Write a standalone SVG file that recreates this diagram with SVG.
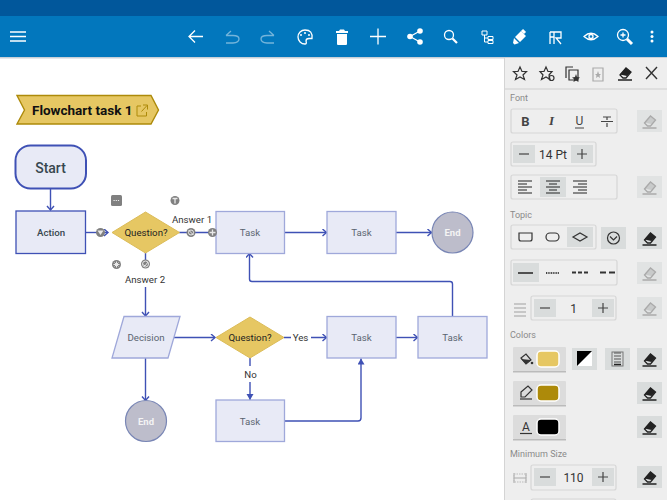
<svg xmlns="http://www.w3.org/2000/svg" width="667" height="500" viewBox="0 0 667 500">
<style>
text{font-family:Roboto,"Liberation Sans",sans-serif}
.n{fill:#e8eaf6;stroke:#9fa8da;stroke-width:1.3}
.nt{font-size:9.7px;fill:#5a6470;text-anchor:middle}
.c{fill:none;stroke:#3f51b5;stroke-width:1.4}
.d{fill:#e6c763;stroke:#dcbc58;stroke-width:1}
.dt{font-size:9.7px;fill:#222;text-anchor:middle}
.l{font-size:9.7px;fill:#333;text-anchor:middle}
.e{fill:#bdbdcb;stroke:#7986b5;stroke-width:1.2}
.et{font-size:9.5px;font-weight:700;fill:#f4f4f4;text-anchor:middle}
.w{fill:none;stroke:#fff;stroke-width:1.3}
.wf{fill:#fff}
.ic{fill:none;stroke:#333;stroke-width:1.2}
.g{fill:none;stroke:#aaa;stroke-width:1.2}
.box{fill:none;stroke:#d6d6d6;stroke-width:1.2}
.sel{fill:#d9dcdc}
.pt{font-size:9px;fill:#8a8a8a}
.v{font-size:12px;fill:#333;text-anchor:middle}
.h{fill:#808080}
.hi{fill:none;stroke:#e8e8e8;stroke-width:1}
</style>
<defs>
<marker id="a" markerWidth="10" markerHeight="10" refX="6" refY="4" orient="auto" markerUnits="userSpaceOnUse"><path d="M2 0.500L6 4L2 7.500" fill="none" stroke="#3f51b5" stroke-width="1.400"/></marker>
<marker id="f" markerWidth="10" markerHeight="10" refX="6" refY="3.500" orient="auto" markerUnits="userSpaceOnUse"><path d="M0 0L6 3.500L0 7Z" fill="#3f51b5"/></marker>
<g id="er"><path d="M-5 2L1 -5L6 -1L1 5H-2ZM-7 7H7" fill="none" stroke="#222" stroke-width="1.300"/><path d="M-5 1.500L1 -5L6 -1L2 3Z" fill="#222"/></g>
<g id="erg"><path d="M-5 2L1 -5L6 -1L1 5H-2ZM-7 7H7" fill="none" stroke="#aaa" stroke-width="1.300"/><path d="M-5 1.500L1 -5L6 -1L2 3Z" fill="#aaa" opacity=".45"/></g>
</defs>
<rect width="667" height="500" fill="#fff"/>

<g id="toolbar">
<rect width="667" height="16" fill="#01579b"/>
<rect y="16" width="667" height="41" fill="#0277bd"/>
<rect y="57" width="667" height="1.500" fill="#c8d0d8"/>
<path class="w" style="stroke-width:1.700" d="M10 32H26M10 36.500H26M10 41H26"/>
<path class="w" d="M203 36.500H189M195 30.500L189 36.500L195 42.500"/>
<g opacity=".45"><path class="w" d="M231 31L226 35.500M226 35.500H233Q239 35.500 239 39T233 43H226"/><path class="w" d="M269 31L274 35.500M274 35.500H267Q261 35.500 261 39T267 43H274"/></g>
<path class="w" d="M305 30A7 7 0 1 0 305 44Q307 44 306 41Q306 38.500 309 38.500H312Q313 30 305 30Z"/>
<circle class="wf" cx="301" cy="35" r="1"/><circle class="wf" cx="305" cy="33" r="1"/><circle class="wf" cx="309" cy="35" r="1"/>
<path class="wf" d="M337 34H347V44Q347 45 346 45H338Q337 45 337 44ZM336 31H339L340 29.500H344L345 31H348V33H336Z"/>
<path class="w" d="M370 36.500H386M378 28.500V44.500"/>
<path class="w" d="M410 36.500L420 31M410 36.500L420 42"/><circle class="wf" cx="410" cy="36.500" r="2.800"/><circle class="wf" cx="420" cy="31" r="2.800"/><circle class="wf" cx="420" cy="42" r="2.800"/>
<circle class="w" cx="449" cy="35" r="4.500"/><path d="M452.500 38.500L457 43" stroke="#fff" stroke-width="2.200"/>
<path class="w" style="stroke-width:1" d="M482 31H487V35H482ZM484.500 35V42H488M484.500 38H488M488 36.500H493V39.500H488ZM488 40.500H493V43.500H488Z"/>
<path class="wf" d="M515 37L521 31L526 36L520 42ZM519 43L514 38L513 43L514.500 44.500Z"/><path d="M522 30L525 33" stroke="#fff" stroke-width="3"/>
<path class="w" d="M550 32H561V38H556L561 44M550 32V44M554 32V44M550 37H554"/>
<path class="w" d="M584 36.500Q591 30 598 36.500Q591 43 584 36.500Z"/><circle class="w" cx="591" cy="36.500" r="2"/>
<circle class="w" cx="623" cy="35" r="5.500"/><path class="w" d="M620.500 35H625.500M623 32.500V37.500"/><path d="M627 39L632 44" stroke="#fff" stroke-width="3"/>
<circle class="wf" cx="652" cy="32" r="1.500"/><circle class="wf" cx="652" cy="36.500" r="1.500"/><circle class="wf" cx="652" cy="41" r="1.500"/>
</g>

<g id="panel">
<rect x="504" y="58" width="163" height="442" fill="#eeeeee"/>
<rect x="504" y="58" width="1" height="442" fill="#d4d4d4"/>
<rect x="505" y="88" width="162" height="2" fill="#dedede"/>
<path class="ic" d="M520 67L522 71.500H526.500L523 75L524.500 79.500L520 77L515.500 79.500L517 75L513.500 71.500H518Z"/>
<path class="ic" d="M546 67L548 71.500H552L549 75L550 79.500L546 77L541.500 79.500L543 75L540 71.500H544Z"/><circle class="ic" cx="551.500" cy="78" r="2.500"/>
<path class="ic" d="M573 67H566V78M569 70H578V80H569Z"/><path d="M576 74L577 77L580 77.500L578 79L578.500 82L576 80.500L573.500 82L574 79L572 77.500L575 77Z" fill="#333"/>
<path class="g" d="M593 68H603V81H593Z"/><path d="M598 71L599 74H601L599.500 75.500L600 78L598 76.500L596 78L596.500 75.500L595 74H597Z" fill="#aaa"/>
<use href="#er" x="625" y="73"/>
<path d="M646 67L657 79M657 67L646 79" stroke="#333" stroke-width="1.400"/>

<text class="pt" x="510" y="101">Font</text>
<rect class="box" x="511" y="109" width="106" height="24" rx="2"/>
<text x="525.500" y="125.500" font-size="13" font-weight="700" fill="#444" text-anchor="middle">B</text>
<text x="551.500" y="125" style="font-family:'Liberation Serif',serif" font-size="13" font-weight="700" font-style="italic" fill="#444" text-anchor="middle">I</text>
<text x="579.500" y="125" font-size="12" fill="#444" text-anchor="middle">U</text><path d="M575 128H584" stroke="#444"/>
<path d="M603 117H611M607 117V120M607 123V127M601 121.500H613" fill="none" stroke="#444" stroke-width="1.200"/>
<rect class="sel" x="637" y="110" width="25" height="22" opacity=".6"/><use href="#erg" x="649.500" y="121"/>
<rect class="box" x="511" y="142" width="85" height="24" rx="2"/>
<rect class="sel" x="513" y="145" width="22" height="18"/><path d="M519 154H529" stroke="#444" stroke-width="1.200"/>
<text class="v" x="553" y="158.500">14 Pt</text>
<rect class="sel" x="571" y="145" width="22" height="18"/><path d="M577 154H587M582 149V159" stroke="#444" stroke-width="1.200"/>
<rect class="box" x="511" y="175" width="106" height="24" rx="2"/>
<rect class="sel" x="540" y="177" width="26" height="20"/>
<path d="M518 181H532M518 184H527M518 187H532M518 190H527M518 193H532" stroke="#222" stroke-width="1.200"/>
<path d="M546 181H560M549 184H557M546 187H560M549 190H557M546 193H560" stroke="#222" stroke-width="1.200"/>
<path d="M573 181H587M578 184H587M573 187H587M578 190H587M573 193H587" stroke="#222" stroke-width="1.200"/>
<rect class="sel" x="637" y="176" width="25" height="22" opacity=".6"/><use href="#erg" x="649.500" y="187"/>

<text class="pt" x="510" y="218">Topic</text>
<rect class="box" x="511" y="225" width="85" height="24" rx="2"/>
<rect class="sel" x="567" y="227" width="26" height="20"/>
<path class="ic" d="M519 233H532V239Q532 241 530 241H521Q519 241 519 239Z"/>
<rect class="ic" x="546" y="233" width="13" height="8" rx="4"/>
<path class="ic" d="M573 237L580 233L587 237L580 241Z"/>
<rect class="sel" x="601" y="227" width="25" height="22"/><circle class="ic" cx="613.500" cy="238" r="6"/><path class="ic" d="M610 236.500L613.500 240L617 236.500"/>
<rect class="sel" x="637" y="227" width="25" height="22"/><use href="#er" x="649.500" y="238"/>
<rect class="box" x="511" y="260" width="106" height="25" rx="2"/>
<rect class="sel" x="513" y="263" width="26" height="19"/>
<path d="M518 273H533" stroke="#222" stroke-width="1.500"/>
<path d="M546 273H559" stroke="#444" stroke-width="2" stroke-dasharray="1 .7"/>
<path d="M572 272.500H588" stroke="#333" stroke-width="2" stroke-dasharray="4 2"/>
<path d="M600 272.500H615" stroke="#333" stroke-width="2" stroke-dasharray="6 3"/>
<rect class="sel" x="637" y="262" width="25" height="22" opacity=".6"/><use href="#erg" x="649.500" y="273"/>
<path d="M514 304H526M514 308H526M514 312H526M514 316H526" stroke="#bbb" stroke-width="1.500"/>
<rect class="box" x="531" y="296" width="85" height="24" rx="2"/>
<rect class="sel" x="534" y="299" width="22" height="18"/><path d="M540 308H550" stroke="#444" stroke-width="1.200"/>
<text class="v" x="573.500" y="312.500">1</text>
<rect class="sel" x="592" y="299" width="22" height="18"/><path d="M598 308H608M603 303V313" stroke="#444" stroke-width="1.200"/>
<rect class="sel" x="637" y="297" width="25" height="22" opacity=".6"/><use href="#erg" x="649.500" y="308"/>

<text class="pt" x="510" y="338">Colors</text>
<rect x="513" y="347" width="53" height="24" rx="1" fill="#dcdcdc"/><rect x="513" y="371" width="53" height="1.500" fill="#bbb"/>
<path class="ic" d="M521 358L526 354L531 360L526 364Z"/><path d="M521 359L531 360L526 364Z" fill="#333"/><circle cx="532" cy="363" r="1.300" fill="#333"/>
<rect x="537" y="351" width="22" height="16" rx="4" fill="#e6c763" stroke="#fff" stroke-width="1.500"/>
<rect class="sel" x="572" y="348" width="25" height="22"/><rect x="577" y="351" width="15" height="15" fill="#fff"/><path d="M577 351H592L577 366Z" fill="#000"/>
<rect class="sel" x="605" y="348" width="25" height="22"/><rect x="612" y="352" width="11" height="14" fill="none" stroke="#777"/><path d="M614 353H621M614 356H621M614 359H621M614 362H621" stroke="#555"/><path d="M614 364.500H621" stroke="#222" stroke-width="1.500"/>
<rect class="sel" x="637" y="348" width="25" height="22"/><use href="#er" x="649.500" y="359"/>
<rect x="513" y="381" width="53" height="24" rx="1" fill="#dcdcdc"/><rect x="513" y="405" width="53" height="1.500" fill="#bbb"/>
<path d="M521 392L528 386L532 390L525 397H521Z" fill="none" stroke="#333" stroke-width="1.200"/><path d="M520 399H532" stroke="#333" stroke-width="1.200"/>
<rect x="537" y="385" width="22" height="16" rx="4" fill="#ad8a0a" stroke="#fff" stroke-width="1.500"/>
<rect class="sel" x="637" y="382" width="25" height="22"/><use href="#er" x="649.500" y="393"/>
<rect x="513" y="415" width="53" height="24" rx="1" fill="#dcdcdc"/><rect x="513" y="439" width="53" height="1.500" fill="#bbb"/>
<text x="526" y="431" font-size="12" fill="#333" text-anchor="middle">A</text><path d="M520 433.500H532" stroke="#333" stroke-width="1.200"/>
<rect x="537" y="419" width="22" height="16" rx="4" fill="#000" stroke="#fff" stroke-width="1.500"/>
<rect class="sel" x="637" y="416" width="25" height="22"/><use href="#er" x="649.500" y="427"/>

<text class="pt" x="510" y="457">Minimum Size</text>
<path d="M514 473V483M526 473V483M514 478H526" stroke="#aaa"/><rect x="514" y="474" width="12" height="8" fill="none" stroke="#bbb" stroke-dasharray="1.500 1"/>
<rect class="box" x="531" y="465" width="85" height="25" rx="2"/>
<rect class="sel" x="534" y="468" width="22" height="18"/><path d="M540 477H550" stroke="#444" stroke-width="1.200"/>
<text class="v" x="573.500" y="482">110</text>
<rect class="sel" x="592" y="468" width="22" height="18"/><path d="M598 477H608M603 472V482" stroke="#444" stroke-width="1.200"/>
<rect class="sel" x="637" y="466" width="25" height="22"/><use href="#er" x="649.500" y="477"/>
<rect class="box" x="531" y="499" width="85" height="4" rx="2"/>
</g>

<g id="connectors">
<path class="c" d="M50.500 189V210" marker-end="url(#a)"/>
<path class="c" d="M86 232.500H108" marker-end="url(#a)"/>
<path class="c" d="M179 232.500H215.500" marker-end="url(#a)"/>
<path class="c" d="M145.500 253V263M145.500 287V316" marker-end="url(#a)"/>
<path class="c" d="M284.500 232.500H326.500" marker-end="url(#a)"/>
<path class="c" d="M396 232.500H431.500" marker-end="url(#a)"/>
<path class="c" d="M452.500 316V284Q452.500 281.500 450 281.500H252Q249.500 281.500 249.500 279V253.500" marker-end="url(#a)"/>
<path class="c" d="M145.500 358V400.500" marker-end="url(#a)"/>
<path class="c" d="M174 337.500H215" marker-end="url(#a)"/>
<path class="c" d="M284 337.500H291M311 337.500H326.500" marker-end="url(#a)"/>
<path class="c" d="M396 337.500H417.500" marker-end="url(#a)"/>
<path class="c" d="M250 358V366M250 382V400" marker-end="url(#f)"/>
<path class="c" d="M284.500 421H358Q361 421 361 418V358.500" marker-end="url(#f)"/>
</g>

<g id="title"><path d="M17 95.500H151L158.500 110L151 124H17L24.500 110Z" fill="#e6c763" stroke="#ad8a0a" stroke-width="1.400"/>
<text x="32" y="115" font-size="13.500" font-weight="700" fill="#111">Flowchart task 1</text>
<path d="M141 106H137V116H146.500V112M141.500 111.500L147 105.500M143 105H147.500V109.500" fill="none" stroke="#ad8a0a" stroke-width="1"/></g>
<g id="start"><rect x="15.500" y="145.500" width="70.500" height="43" rx="15" fill="#e8eaf6" stroke="#3f51b5" stroke-width="2"/><text x="50.500" y="172.500" font-size="14" font-weight="500" fill="#37474f" text-anchor="middle">Start</text></g>
<g id="action"><rect x="16" y="211" width="69.500" height="42.500" fill="#e8eaf6" stroke="#3f51b5" stroke-width="1.300"/><text class="nt" x="51" y="236" font-weight="500" style="fill:#37474f">Action</text></g>
<g id="question1"><path class="d" d="M145.500 212L179.500 232.500L145.500 253L112 232.500Z"/><text class="dt" x="146" y="236">Question?</text></g>
<g id="task1"><rect class="n" x="216" y="211.500" width="68.500" height="42"/><text class="nt" x="250" y="236">Task</text></g>
<g id="task2"><rect class="n" x="327" y="211.500" width="69" height="42"/><text class="nt" x="361.500" y="236">Task</text></g>
<g id="end1"><circle class="e" cx="452.500" cy="232.500" r="20.500"/><text class="et" x="452.500" y="236">End</text></g>
<g id="decision"><path class="n" d="M124 316.500H180L168 358H112Z"/><text class="nt" x="146" y="341">Decision</text></g>
<g id="question2"><path class="d" d="M250 317L284 337.500L250 358L216 337.500Z"/><text class="dt" x="250" y="341">Question?</text></g>
<g id="task3"><rect class="n" x="327" y="316.500" width="69" height="41.500"/><text class="nt" x="361.500" y="341">Task</text></g>
<g id="task4"><rect class="n" x="418" y="316.500" width="69" height="41.500"/><text class="nt" x="452.500" y="341">Task</text></g>
<g id="task5"><rect class="n" x="216" y="400" width="68.500" height="41.500"/><text class="nt" x="250" y="424.500">Task</text></g>
<g id="end2"><circle class="e" cx="146" cy="421" r="20.500"/><text class="et" x="146" y="424.500">End</text></g>

<g id="labels">
<text class="l" x="192" y="222.500">Answer 1</text>
<text class="l" x="145" y="283">Answer 2</text>
<text class="l" x="300.500" y="340.500">Yes</text>
<text class="l" x="250.500" y="377.500">No</text>
</g>

<g id="handles">
<circle class="h" cx="100.500" cy="232.500" r="4.500"/><path d="M97.500 230.500H103.500L100.500 235Z" fill="#e8e8e8"/>
<rect class="h" x="111" y="195" width="11" height="11" rx="1.500"/><path d="M113.500 200.500H119.500" stroke="#eee" stroke-dasharray="1.200 1" stroke-width="1.200"/>
<circle class="h" cx="175" cy="200.500" r="4.500"/><path d="M172.500 198.500H177.500M175 198.500V203.500" stroke="#e8e8e8" stroke-width="1.300"/>
<circle class="h" cx="191" cy="232.500" r="4.500"/><path class="hi" d="M188.500 230L193.500 235M188.500 232.500a2.500 2.500 0 1 0 5 0a2.500 2.500 0 1 0-5 0"/>
<circle class="h" cx="212.500" cy="232.500" r="4.500"/><path d="M209.500 232.500H215.500M212.500 229.500V235.500" stroke="#e8e8e8" stroke-width="1.300"/>
<circle class="h" cx="116.500" cy="264.500" r="4.500"/><path d="M113.500 264.500H119.500M116.500 261.500V267.500M114.500 262.500L118.500 266.500M118.500 262.500L114.500 266.500" stroke="#e8e8e8"/>
<circle class="h" cx="145.500" cy="264" r="4.500"/><circle class="hi" cx="145.500" cy="264" r="3"/><path d="M143.500 264.500L145 266L148 262" class="hi"/>
</g>
</svg>
